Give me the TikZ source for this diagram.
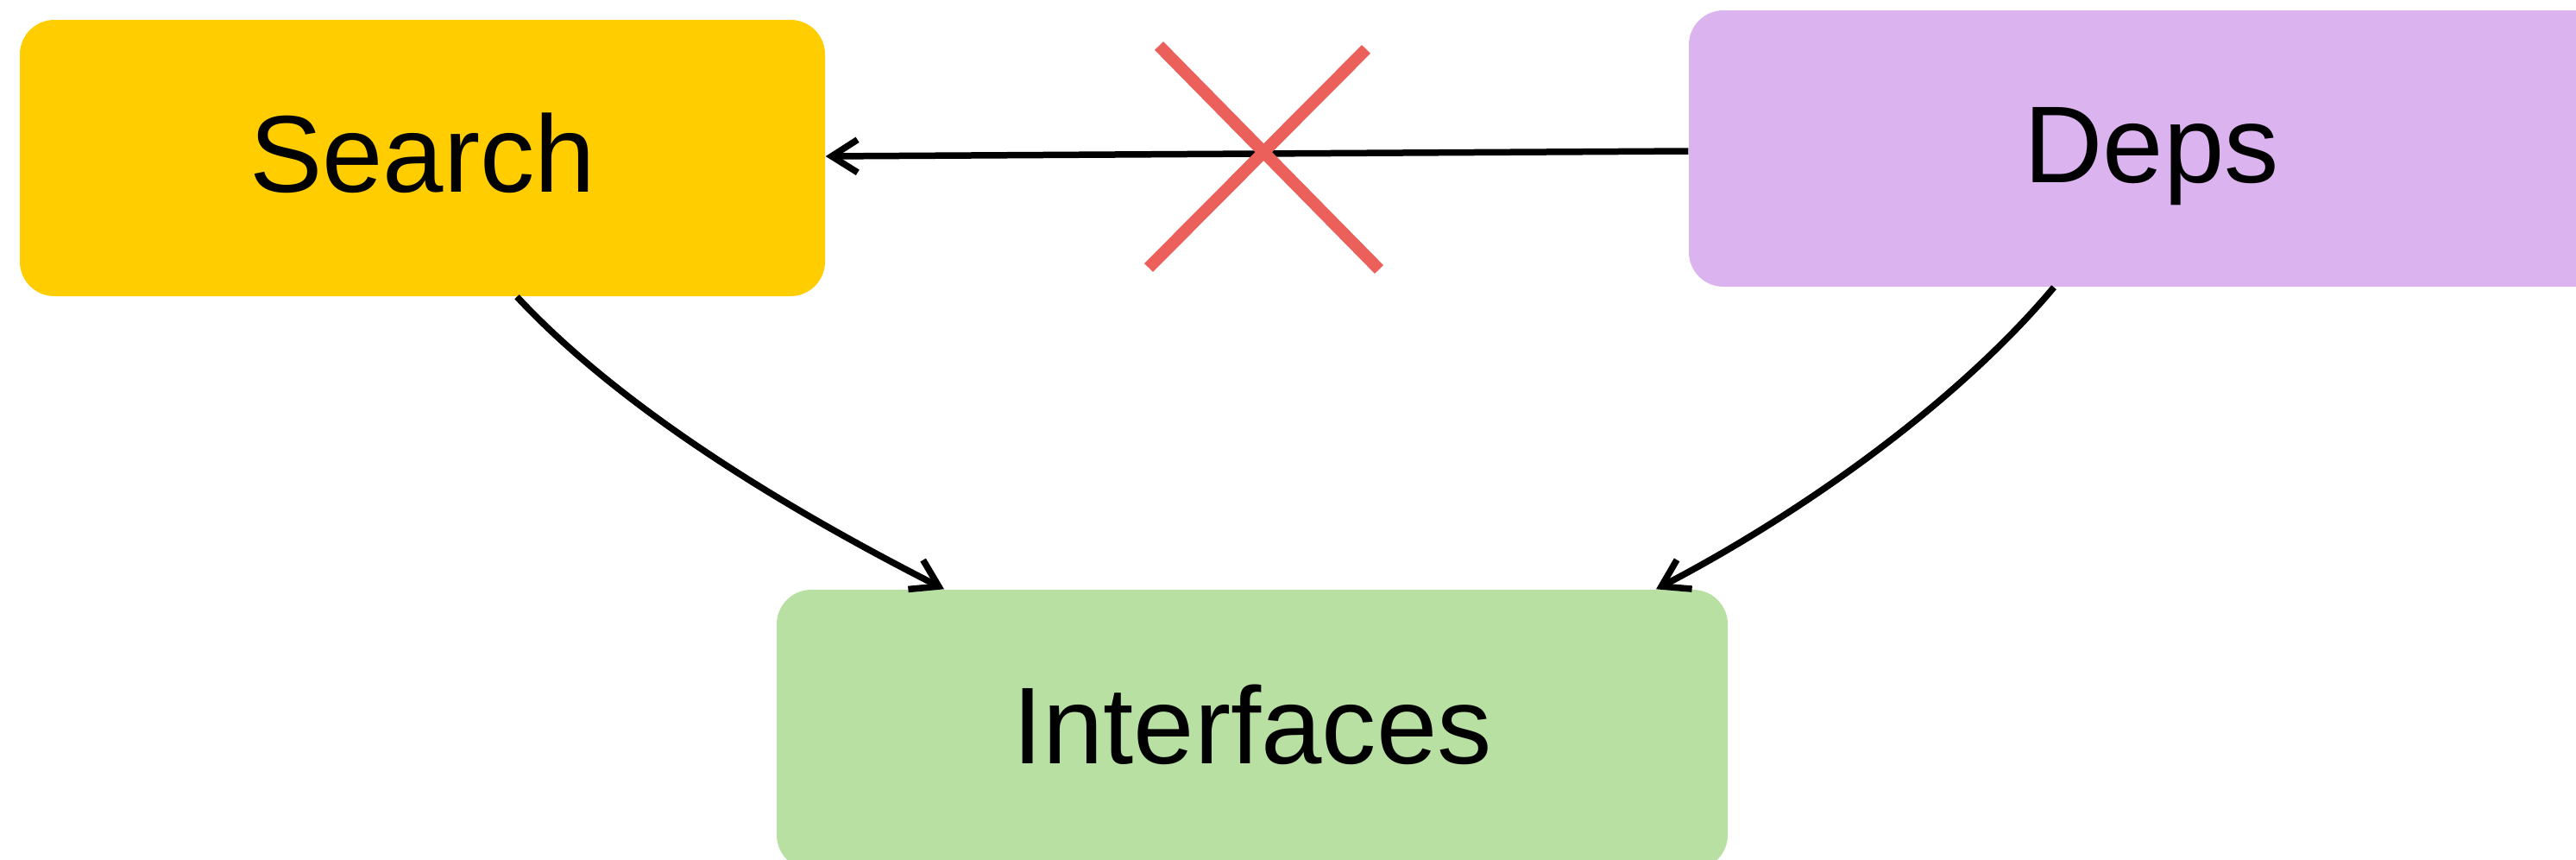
\documentclass[tikz,border=0pt]{standalone}
\usepackage{fontspec}
\setmainfont{Liberation Sans}
\usetikzlibrary{arrows.meta,calc}
\definecolor{searchfill}{HTML}{FFCD00}
\definecolor{depsfill}{HTML}{DAB3EF}
\definecolor{ifacefill}{HTML}{B8E0A2}
\definecolor{crossred}{HTML}{EC605B}
\tikzset{
    box/.style={rectangle, rounded corners=0.4cm, inner sep=0pt,
        text height=1.0cm, text depth=0.21cm,
        font=\fontsize{36}{44}\selectfont},
    link/.style={draw, line width=0.75mm, -{Straight Barb[length=3mm,width=3.8mm]}}
}
\begin{document}
\begin{tikzpicture}
    \useasboundingbox (0,0) rectangle (29.85,-9.95);
    \node[box, fill=searchfill, minimum width=9.33cm, minimum height=3.2cm] (search) at (4.895,-1.83) {Search};
    \node[box, fill=depsfill, minimum width=10.72cm, minimum height=3.2cm] (deps) at (24.93,-1.72) {Deps};
    \node[box, fill=ifacefill, minimum width=11.02cm, minimum height=3.24cm] (interfaces) at (14.51,-8.45) {Interfaces};
    \draw[link] ([yshift=-0.03cm]deps.west) -- ([yshift=0.02cm]search.east);
    \draw[link] ([xshift=1.095cm]search.south) to[out=-47,in=153,looseness=0.8] ([xshift=-3.57cm]interfaces.north);
    \draw[link] ([xshift=-1.13cm]deps.south) to[out=-130,in=27.5,looseness=0.8] ([xshift=4.68cm]interfaces.north);
    % the crossed out dependency
    \coordinate (cut) at (14.65,-1.81);
    \draw[crossred, line width=1.4mm] ($(cut)+(-1.22,1.28)$) -- ($(cut)+(1.33,-1.31)$);
    \draw[crossred, line width=1.4mm] ($(cut)+(1.18,1.24)$) -- ($(cut)+(-1.34,-1.29)$);
\end{tikzpicture}
\end{document}
